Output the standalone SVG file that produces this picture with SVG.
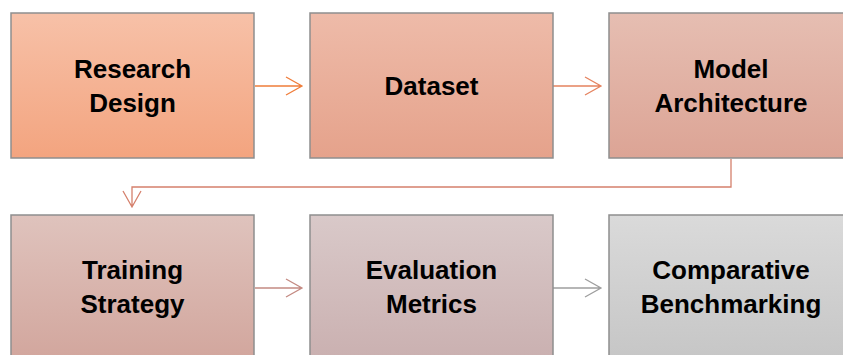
<svg xmlns="http://www.w3.org/2000/svg" width="843" height="355" viewBox="0 0 843 355">
<defs>
<linearGradient id="g1" x1="0" y1="0" x2="0" y2="1"><stop offset="0" stop-color="#F7C1A8"/><stop offset="1" stop-color="#F3A47F"/></linearGradient>
<linearGradient id="g2" x1="0" y1="0" x2="0" y2="1"><stop offset="0" stop-color="#EEBBA9"/><stop offset="1" stop-color="#E5A28B"/></linearGradient>
<linearGradient id="g3" x1="0" y1="0" x2="0" y2="1"><stop offset="0" stop-color="#E6BEB2"/><stop offset="1" stop-color="#DCA495"/></linearGradient>
<linearGradient id="g4" x1="0" y1="0" x2="0" y2="1"><stop offset="0" stop-color="#DFC3BD"/><stop offset="1" stop-color="#D2A69D"/></linearGradient>
<linearGradient id="g5" x1="0" y1="0" x2="0" y2="1"><stop offset="0" stop-color="#D9C9C9"/><stop offset="1" stop-color="#CAB0B0"/></linearGradient>
<linearGradient id="g6" x1="0" y1="0" x2="0" y2="1"><stop offset="0" stop-color="#DADADA"/><stop offset="1" stop-color="#C6C6C6"/></linearGradient>
</defs>
<style>
.box{stroke:#8E8E8E;stroke-width:1.5}
.t{font-family:"Liberation Sans",Arial,sans-serif;font-weight:bold;font-size:26px;fill:#000;text-anchor:middle}
.c{fill:none;stroke-width:1.3}
</style>
<g id="connectors">
<path class="c" stroke="#F07D3A" d="M255 86H302M286 77L302 86L286 95"/>
<path class="c" stroke="#E5835F" d="M553 86H601M585 77L601 86L585 95"/>
<path class="c" stroke="#D5806C" d="M731 159V187H132V207M123 191L132 207L141 191"/>
<path class="c" stroke="#C48A82" d="M255 288H302M286 279L302 288L286 297"/>
<path class="c" stroke="#9E9E9E" d="M553 288H601M585 279L601 288L585 297"/>
</g>
<g id="n1"><rect class="box" x="11" y="13" width="243" height="145" fill="url(#g1)"/><text class="t" x="132.5" y="78">Research</text><text class="t" x="132.5" y="112">Design</text></g>
<g id="n2"><rect class="box" x="310" y="13" width="243" height="145" fill="url(#g2)"/><text class="t" x="431.5" y="95">Dataset</text></g>
<g id="n3"><rect class="box" x="609" y="13" width="243" height="145" fill="url(#g3)"/><text class="t" x="731" y="78">Model</text><text class="t" x="731" y="112">Architecture</text></g>
<g id="n4"><rect class="box" x="11" y="215" width="243" height="145" fill="url(#g4)"/><text class="t" x="132.5" y="279">Training</text><text class="t" x="132.5" y="313">Strategy</text></g>
<g id="n5"><rect class="box" x="310" y="215" width="243" height="145" fill="url(#g5)"/><text class="t" x="431.5" y="279">Evaluation</text><text class="t" x="431.5" y="313">Metrics</text></g>
<g id="n6"><rect class="box" x="609" y="215" width="243" height="145" fill="url(#g6)"/><text class="t" x="731" y="279">Comparative</text><text class="t" x="731" y="313">Benchmarking</text></g>
</svg>
